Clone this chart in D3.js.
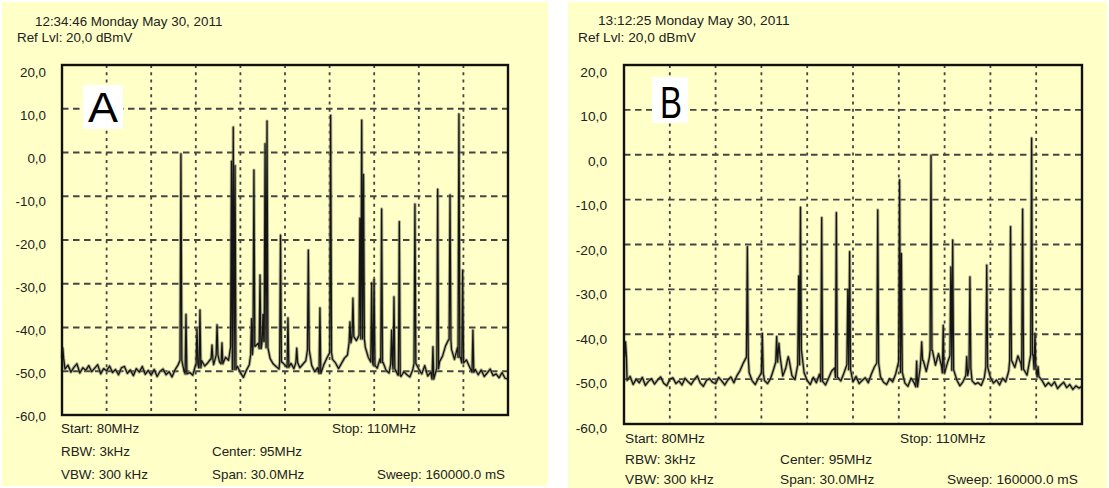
<!DOCTYPE html>
<html>
<head>
<meta charset="utf-8">
<script src="https://cdn.jsdelivr.net/npm/d3@7"></script>
<style>
  html, body { margin: 0; padding: 0; background: #fff; }
  text { font-family: "Liberation Sans", Arial, sans-serif; }
</style>
</head>
<body>
<div id="graphic"></div>
<script>
// spectrum analyser screens, 80-110 MHz, dBmV

const yTicks = [20, 10, 0, -10, -20, -30, -40, -50, -60]
const yTickLabels = ["20,0", "10,0", "0,0", "-10,0", "-20,0", "-30,0", "-40,0", "-50,0", "-60,0"]
const gridMHz = [83, 86, 89, 92, 95, 98, 101, 104, 107]

const timeA = "12:34:46 Monday May 30, 2011"
const timeB = "13:12:25 Monday May 30, 2011"
const refLevel = "Ref Lvl: 20,0 dBmV"
const footer = ["Start: 80MHz", "Stop: 110MHz", "RBW: 3kHz", "Center: 95MHz", "VBW: 300 kHz", "Span: 30.0MHz", "Sweep: 160000.0 mS"]

// noise floor, one value every 0.2 MHz from 80.0 to 110.0
const noiseA = [
    -47, -49.5, -48.6, -50.2, -49.1, -48.3, -50.4, -49.2, -49.8, -48.7,
    -50.1, -49.3, -48.5, -50.6, -49.4, -49.9, -48.8, -50.3, -49.6, -50.8,
    -49.2, -48.9, -50.5, -49.7, -51.0, -49.4, -50.2, -48.9, -50.7, -49.8,
    -50.9, -49.6, -51.2, -50.0, -49.5, -50.8, -50.1, -51.3, -49.7, -48.6,
    -47.5, -49.8, -50.6, -50.3, -50.9, -48.4, -49.2, -47.6, -48.8, -48.1,
    -47.2, -48.5, -46.3, -47.9, -48.3, -46.8, -47.5, -44.5, -49.6, -48.9,
    -50.3, -51.4, -49.8, -48.5, -46.2, -44.3, -43.6, -44.8, -43.2, -44.6,
    -47.1, -48.3, -48.9, -49.5, -47.9, -48.6, -49.1, -48.2, -49.4, -48.0,
    -49.2, -48.4, -47.6, -45.1, -48.7, -50.1, -49.2, -50.5, -48.6, -47.1,
    -45.8, -47.3, -48.1, -49.4, -48.2, -47.0, -46.3, -43.5, -42.1, -43.0,
    -41.8, -42.6, -44.5, -46.8, -47.9, -48.6, -49.3, -47.1, -48.0, -49.8,
    -50.4, -48.3, -49.5, -50.9, -51.2, -50.1, -50.8, -51.3, -49.6, -48.2,
    -49.5, -50.6, -48.7, -51.1, -50.2, -51.8, -49.4, -47.8, -46.5, -44.2,
    -42.8, -45.0, -47.3, -44.6, -46.8, -48.1, -47.4, -48.9, -50.2, -49.6,
    -50.8, -49.7, -51.2, -50.4, -49.5, -51.0, -50.6, -51.5, -50.3, -51.6,
    -51.8
]
const noiseB = [
    -45, -50.3, -49.4, -51.2, -50.0, -50.8, -49.6, -51.4, -50.5, -49.9,
    -51.1, -50.2, -49.5, -50.9, -51.5, -50.0, -49.7, -51.0, -50.4, -51.3,
    -49.8, -50.6, -51.2, -50.1, -49.3, -50.9, -51.6, -50.3, -49.9, -50.7,
    -51.0, -49.6, -50.4, -51.3, -50.2, -49.5, -50.8, -49.2, -48.1, -46.5,
    -45.2, -48.6, -50.4, -51.2, -49.8, -48.6, -50.3, -51.0, -49.9, -47.8,
    -46.2, -44.6, -49.3, -47.5, -45.8, -49.2, -50.1, -46.8, -43.5, -48.6,
    -50.3, -51.2, -49.6, -50.8, -48.9, -50.5, -51.3, -49.8, -48.2, -47.5,
    -49.6, -50.4, -48.7, -46.8, -47.9, -50.6, -49.4, -51.0, -50.3, -49.7,
    -50.8, -48.9, -47.3, -46.4, -49.5, -50.7, -51.2, -49.9, -50.6, -48.8,
    -46.1, -48.5, -50.9, -51.6, -49.8, -50.8, -51.7, -47.5, -45.8, -48.3,
    -45.2, -43.6, -46.9, -44.3, -47.1, -48.6, -46.2, -44.8, -48.0, -50.2,
    -51.5, -50.6, -49.2, -47.6, -50.4, -51.1, -50.8, -51.4, -49.7, -47.3,
    -49.6, -50.9, -50.2, -51.3, -49.8, -50.6, -48.2, -45.9, -47.4, -44.8,
    -46.5, -47.9, -49.1, -45.3, -44.6, -47.8, -49.5, -50.4, -51.6, -50.8,
    -51.5, -50.6, -52.1, -51.3, -50.7, -51.9, -51.2, -52.3, -51.5, -52.0,
    -51.6
]

// carriers: [MHz, dBmV]
const peaksA = [
    [80.05, -44.7], [88.00, -0.3], [88.34, -37], [89.08, -40.3], [89.28, -36],
    [90.09, -44], [90.43, -39.4], [90.76, -43.5], [91.40, -2], [91.52, 5.8],
    [91.64, -3], [92.75, -38], [92.91, -4], [93.32, -28], [93.52, -37],
    [93.66, 2], [93.79, 7.2], [94.70, -18.9], [95.20, -37.8], [95.79, -44.7],
    [96.57, -22.3], [97.35, -35.5], [98.07, 8.5], [99.37, -38.7], [99.57, -33.3],
    [100.04, -15], [100.16, 7.4], [100.28, -5], [100.83, -29.8], [100.99, -29],
    [101.50, -12.9], [102.17, -40.6], [102.33, -33], [102.69, -15.8], [103.74, -11.8],
    [104.95, -44.4], [105.27, -8.4], [106.10, -9.7], [106.70, 8.8], [106.95, -26.9],
    [107.64, -40.6]
]
const peaksB = [
    [80.10, -41.7], [88.08, -20.5], [89.06, -39.8], [90.00, -40.5], [90.15, -42],
    [90.76, -45], [91.44, -27], [91.56, -11.7], [92.95, -14], [93.91, -12.9],
    [94.66, -30], [94.78, -21.6], [96.62, -12.3], [98.05, -5.6], [98.17, -22],
    [99.17, -46], [99.50, -41.7], [100.11, -0.1], [100.91, -38], [101.41, -25],
    [101.53, -19], [102.45, -45], [102.66, -27.2], [103.76, -24.6], [105.32, -16],
    [106.11, -12.1], [106.70, 3.7], [106.92, -39.8], [107.12, -47.2]
]

const panels = [
    {
        name: "A", noise: noiseA, peaks: peaksA, time: timeA,
        bg: [2, 2, 546, 484],
        left: 62, right: 508, top: 65, bottom: 415,
        labelTop: 71.7, labelBottom: 416.5, labelX: 46,
        fs: 13.4,
        timePos: [35, 26], refPos: [17, 42],
        rows: [433, 455.5, 478.5], cols: [61, 212, 332, 377],
        tag: [83, 85, 40, 44], tagText: [103, 121.7], tagSize: 42, tagWidth: 30
    },
    {
        name: "B", noise: noiseB, peaks: peaksB, time: timeB,
        bg: [568, 2, 539, 486],
        left: 624, right: 1082, top: 65, bottom: 424,
        labelTop: 71.7, labelBottom: 428, labelX: 607,
        fs: 13.7,
        timePos: [598, 25], refPos: [578, 42],
        rows: [442.5, 464, 484], cols: [625, 780, 900, 947],
        tag: [652, 77, 36, 46], tagText: [671, 118.3], tagSize: 44, tagWidth: 22
    }
]

// where each footer string goes: [row, col]
const footerPlace = [[0, 0], [0, 2], [1, 0], [1, 1], [2, 0], [2, 1], [2, 3]]

let svg = d3.select("#graphic").append("svg")
    .attr("width", 1109)
    .attr("height", 488)

function buildTrace(noise, peaks) {
    const hw = 0.06
    let pts = noise.map(function (v, i) { return [80 + i * 0.2, v] })
        .filter(function (p) {
            return !peaks.some(function (k) { return Math.abs(p[0] - k[0]) <= hw + 1e-9 })
        })
    peaks.forEach(function (k) {
        const idx = Math.round((k[0] - 80) / 0.2)
        const floor = noise[Math.max(0, Math.min(noise.length - 1, idx))]
        pts.push([Math.max(80, k[0] - hw), floor], [k[0], k[1]], [k[0] + hw, floor])
    })
    pts.sort(function (a, b) { return a[0] - b[0] })
    return pts
}

panels.forEach(function (p) {
    let g = svg.append("g")

    g.append("rect")
        .attr("x", p.bg[0]).attr("y", p.bg[1])
        .attr("width", p.bg[2]).attr("height", p.bg[3])
        .attr("fill", "#FFFFC8")

    let x = d3.scaleLinear().domain([80, 110]).range([p.left, p.right])
    let y = d3.scaleLinear().domain([-60, 20]).range([p.bottom, p.top])
    let yLab = d3.scaleLinear().domain([-60, 20]).range([p.labelBottom, p.labelTop])

    // grid
    g.selectAll(null)
        .data(yTicks.slice(1, -1))
        .enter().append("line")
        .attr("x1", p.left).attr("x2", p.right)
        .attr("y1", function (d) { return y(d) })
        .attr("y2", function (d) { return y(d) })
        .attr("stroke", "#454545")
        .attr("stroke-width", 1.8)
        .attr("stroke-dasharray", "6.5,4.5")

    g.selectAll(null)
        .data(gridMHz)
        .enter().append("line")
        .attr("y1", p.top).attr("y2", p.bottom)
        .attr("x1", function (d) { return x(d) })
        .attr("x2", function (d) { return x(d) })
        .attr("stroke", "#454545")
        .attr("stroke-width", 1.8)
        .attr("stroke-dasharray", "3,4.3")

    // trace
    const trace = buildTrace(p.noise, p.peaks)
    let line = d3.line()
        .x(function (d) { return x(d[0]) })
        .y(function (d) { return y(d[1]) })

    g.append("path")
        .datum(trace)
        .attr("d", line)
        .attr("fill", "none")
        .attr("stroke", "#85856c")
        .attr("stroke-width", 3.2)
        .attr("stroke-opacity", 0.65)
        .attr("stroke-linejoin", "round")

    g.append("path")
        .datum(trace)
        .attr("d", line)
        .attr("fill", "none")
        .attr("stroke", "#151515")
        .attr("stroke-width", 1.3)
        .attr("stroke-linejoin", "round")

    // frame
    g.append("rect")
        .attr("x", p.left).attr("y", p.top)
        .attr("width", p.right - p.left).attr("height", p.bottom - p.top)
        .attr("fill", "none")
        .attr("stroke", "#111")
        .attr("stroke-width", 2.4)

    // y labels
    g.selectAll(null)
        .data(yTicks)
        .enter().append("text")
        .attr("x", p.labelX)
        .attr("y", function (d) { return yLab(d) })
        .attr("dy", "0.36em")
        .attr("text-anchor", "end")
        .attr("font-size", p.fs)
        .attr("fill", "#222")
        .text(function (d, i) { return yTickLabels[i] })

    // header
    g.append("text")
        .attr("x", p.timePos[0]).attr("y", p.timePos[1])
        .attr("font-size", p.fs).attr("fill", "#222")
        .text(p.time)
    g.append("text")
        .attr("x", p.refPos[0]).attr("y", p.refPos[1])
        .attr("font-size", p.fs).attr("fill", "#222")
        .text(refLevel)

    // footer
    g.selectAll(null)
        .data(footer)
        .enter().append("text")
        .attr("x", function (d, i) { return p.cols[footerPlace[i][1]] })
        .attr("y", function (d, i) { return p.rows[footerPlace[i][0]] })
        .attr("font-size", p.fs)
        .attr("fill", "#222")
        .text(function (d) { return d })

    // panel tag
    g.append("rect")
        .attr("x", p.tag[0]).attr("y", p.tag[1])
        .attr("width", p.tag[2]).attr("height", p.tag[3])
        .attr("fill", "#fff")
    g.append("text")
        .attr("x", p.tagText[0] - p.tagWidth / 2).attr("y", p.tagText[1])
        .attr("font-size", p.tagSize)
        .attr("textLength", p.tagWidth)
        .attr("lengthAdjust", "spacingAndGlyphs")
        .attr("fill", "#000")
        .text(p.name)
})
</script>
</body>
</html>
